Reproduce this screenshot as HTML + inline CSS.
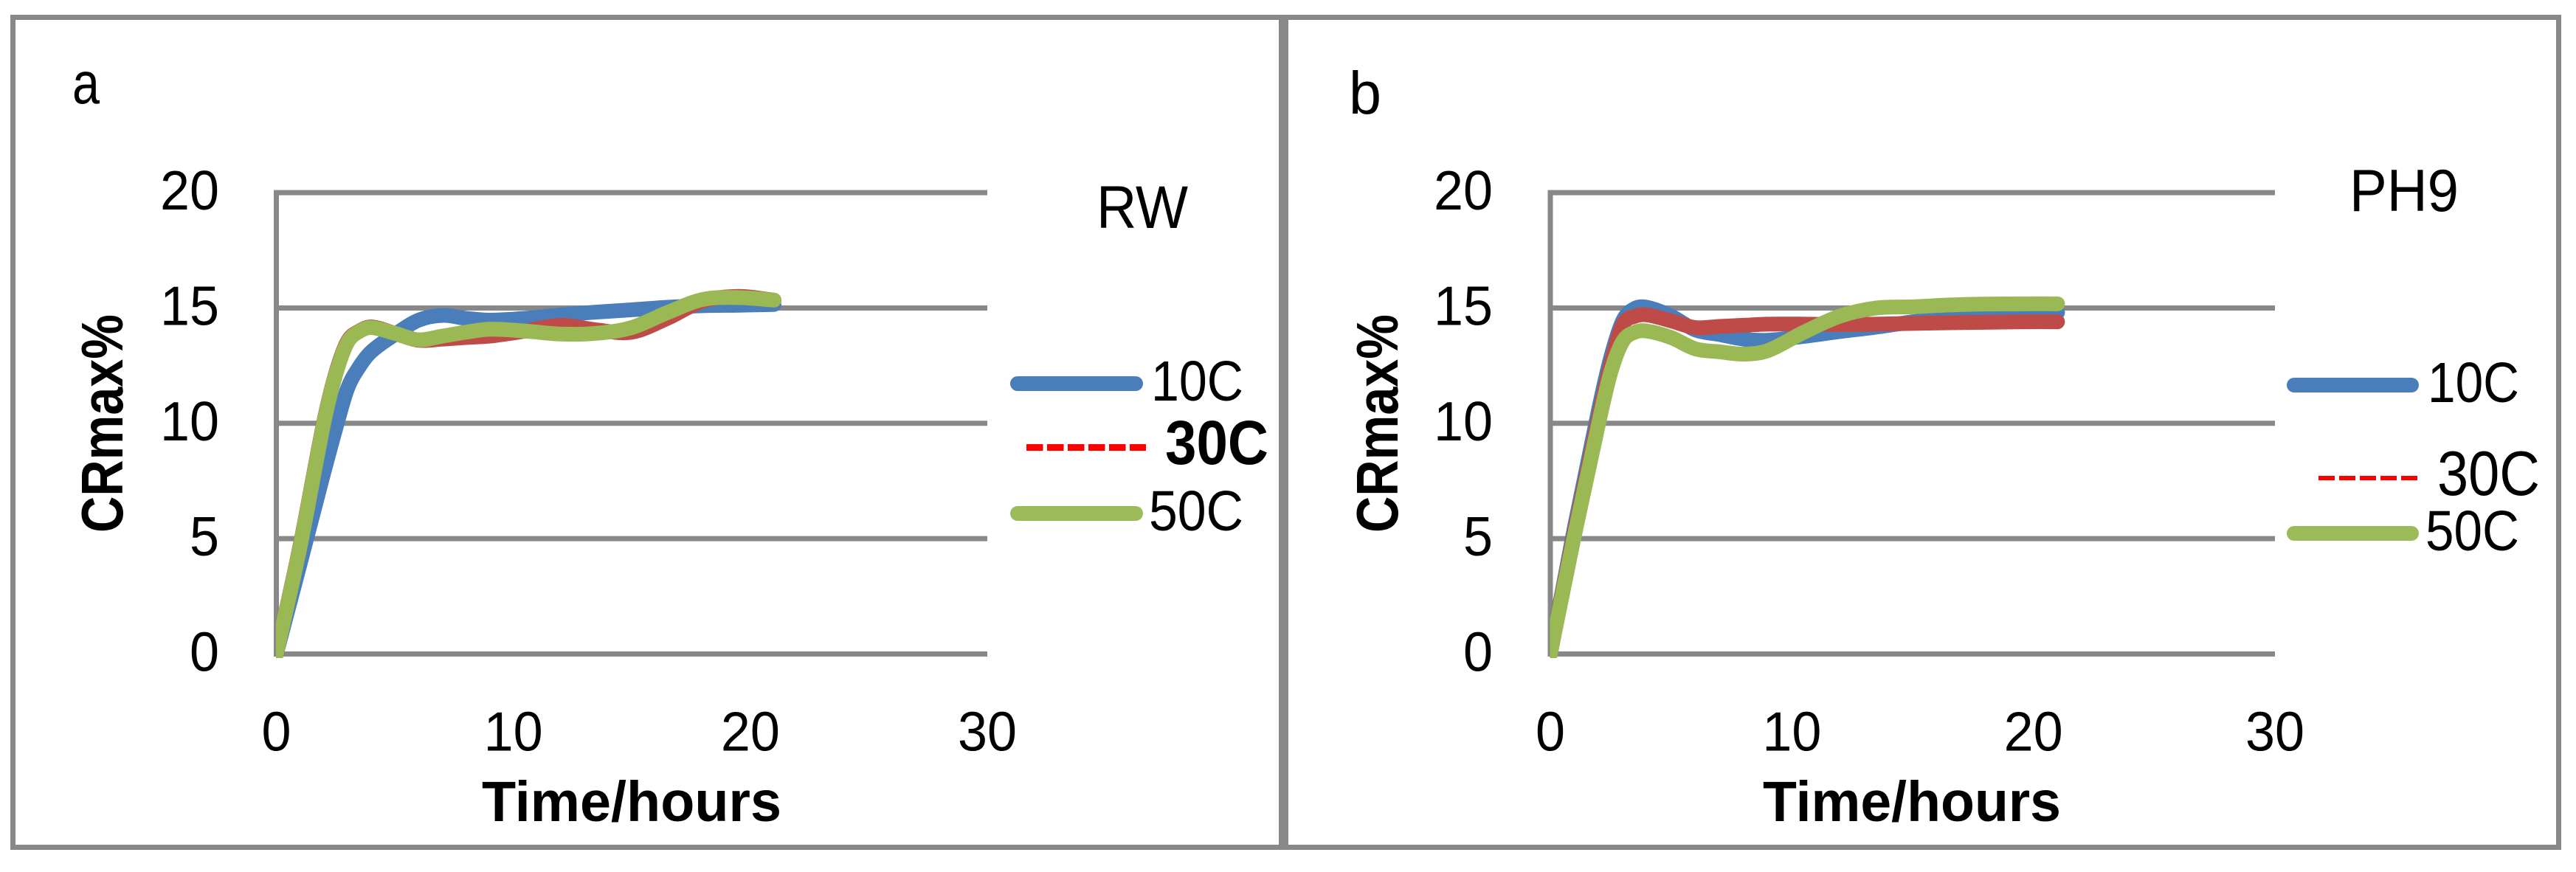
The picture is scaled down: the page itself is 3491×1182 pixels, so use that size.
<!DOCTYPE html>
<html lang="en">
<head>
<meta charset="utf-8">
<title>CRmax% versus time at three temperatures</title>
<style>
html,body{margin:0;padding:0;background:#fff;}
svg{display:block;}
text{font-family:"Liberation Sans",sans-serif;fill:#000;}
.b{font-weight:bold;}
</style>
</head>
<body>
<svg id="figure" xmlns="http://www.w3.org/2000/svg" width="3491" height="1182" viewBox="0 0 3491 1182">
  <rect x="0" y="0" width="3491" height="1182" fill="#fff"/>
  <rect x="17.5" y="23.5" width="3450" height="1125" fill="none" stroke="#888888" stroke-width="7"/>
  <rect x="1733" y="20" width="13" height="1132" fill="#888888"/>

  <g id="panel-a"></g>
  <g id="panel-b"></g>

  <text x="98" y="140" font-size="80" textLength="37" lengthAdjust="spacingAndGlyphs">a</text>
  <text x="1828" y="154" font-size="82" textLength="44" lengthAdjust="spacingAndGlyphs">b</text>
  <text x="1486" y="309" font-size="82" textLength="124" lengthAdjust="spacingAndGlyphs">RW</text>
  <text x="3184" y="286" font-size="81" textLength="148" lengthAdjust="spacingAndGlyphs">PH9</text>

  <text class="b" x="653" y="1113" font-size="77" textLength="406" lengthAdjust="spacingAndGlyphs">Time/hours</text>
  <text class="b" x="2389" y="1113" font-size="77" textLength="404" lengthAdjust="spacingAndGlyphs">Time/hours</text>
  <text class="b" transform="translate(166 722) rotate(-90)" x="0" y="0" font-size="80" textLength="296" lengthAdjust="spacingAndGlyphs">CRmax%</text>
  <text class="b" transform="translate(1894 722) rotate(-90)" x="0" y="0" font-size="80" textLength="296" lengthAdjust="spacingAndGlyphs">CRmax%</text>

  <g>
    <line x1="1379" y1="520" x2="1539" y2="520" stroke="#4a7ebb" stroke-width="20" stroke-linecap="round"/>
    <text x="1560" y="543" font-size="77" textLength="125" lengthAdjust="spacingAndGlyphs">10C</text>
    <line x1="1391" y1="606.5" x2="1553" y2="606.5" stroke="#ff0000" stroke-width="9" stroke-dasharray="22.5 5.5"/>
    <text class="b" x="1579" y="629" font-size="84" textLength="140" lengthAdjust="spacingAndGlyphs">30C</text>
    <line x1="1379" y1="696" x2="1539" y2="696" stroke="#9bbb59" stroke-width="20" stroke-linecap="round"/>
    <text x="1557" y="719" font-size="77" textLength="128" lengthAdjust="spacingAndGlyphs">50C</text>
  </g>
  <g>
    <line x1="3109" y1="522" x2="3268" y2="522" stroke="#4a7ebb" stroke-width="20" stroke-linecap="round"/>
    <text x="3290" y="545" font-size="77" textLength="124" lengthAdjust="spacingAndGlyphs">10C</text>
    <line x1="3142" y1="648" x2="3276" y2="648" stroke="#ff0000" stroke-width="6" stroke-dasharray="22 6"/>
    <text x="3303" y="671" font-size="85" textLength="139" lengthAdjust="spacingAndGlyphs">30C</text>
    <line x1="3109" y1="723" x2="3268" y2="723" stroke="#9bbb59" stroke-width="20" stroke-linecap="round"/>
    <text x="3287" y="746" font-size="77" textLength="127" lengthAdjust="spacingAndGlyphs">50C</text>
  </g>
</svg>
<script>
var xTickValues = [0, 10, 20, 30];
var yTickValues = [0, 5, 10, 15, 20];
var timeHours = [0, 1, 2, 2.5, 3, 3.5, 4, 5, 6, 7, 8, 9, 10.5, 12, 13.5, 15, 16.5, 18, 19.5, 21];

var rw10C = [0, 3.9, 7.85, 9.75, 11.5, 12.45, 13.1, 13.85, 14.47, 14.68, 14.55, 14.47, 14.55, 14.7, 14.82, 14.92, 15.03, 15.1, 15.12, 15.15];
var rw30C = [0, 4.7, 10.05, 12.15, 13.55, 14.0, 14.18, 13.9, 13.6, 13.65, 13.72, 13.78, 14.0, 14.25, 14.05, 13.95, 14.55, 15.3, 15.5, 15.34];
var rw50C = [0, 4.65, 10, 12.1, 13.5, 13.98, 14.15, 13.9, 13.62, 13.78, 13.95, 14.08, 14.0, 13.87, 13.9, 14.15, 14.8, 15.37, 15.45, 15.34];

var ph10C = [0, 5.5, 10.6, 12.85, 14.45, 14.98, 15.03, 14.65, 14.05, 13.85, 13.65, 13.6, 13.77, 13.98, 14.17, 14.4, 14.6, 14.72, 14.78, 14.8];
var ph30C = [0, 5.3, 10.25, 12.55, 14.27, 14.64, 14.7, 14.44, 14.15, 14.2, 14.25, 14.3, 14.3, 14.28, 14.3, 14.33, 14.36, 14.38, 14.4, 14.4];
var ph50C = [0, 5.15, 10, 12.2, 13.55, 13.95, 14.0, 13.72, 13.23, 13.1, 13.0, 13.15, 13.95, 14.65, 15.0, 15.05, 15.13, 15.17, 15.18, 15.18];

var SVG_NS = 'http://www.w3.org/2000/svg';

function svgEl(tag, parent) {
  var el = document.createElementNS(SVG_NS, tag);
  parent.appendChild(el);
  return el;
}

function smoothPath(values, xScale, yScale) {
  var pts = values.map(function (v, i) { return [xScale(timeHours[i]), yScale(v)]; });
  var d = 'M' + pts[0][0].toFixed(2) + ' ' + pts[0][1].toFixed(2);
  for (var i = 0; i < pts.length - 1; i++) {
    var p0 = pts[Math.max(i - 1, 0)];
    var p1 = pts[i];
    var p2 = pts[i + 1];
    var p3 = pts[Math.min(i + 2, pts.length - 1)];
    var h = p2[0] - p1[0];
    var m1 = (p2[1] - p0[1]) / (p2[0] - p0[0]);
    var m2 = (p3[1] - p1[1]) / (p3[0] - p1[0]);
    var c1x = p1[0] + h / 3;
    var c1y = p1[1] + m1 * h / 3;
    var c2x = p2[0] - h / 3;
    var c2y = p2[1] - m2 * h / 3;
    d += 'C' + c1x.toFixed(2) + ' ' + c1y.toFixed(2) + ' ' + c2x.toFixed(2) + ' ' + c2y.toFixed(2) + ' ' + p2[0].toFixed(2) + ' ' + p2[1].toFixed(2);
  }
  return d;
}

function drawPanel(id, prefix, x0, x30, yLabelRight, blue, red, green) {
  var g = document.getElementById(id);
  var xScale = function (t) { return x0 + t * (x30 - x0) / 30; };
  var yScale = function (v) { return 886.5 - v * 31.27; };

  yTickValues.forEach(function (v) {
    var line = svgEl('line', g);
    
    
    line.setAttribute('x1', x0);
    line.setAttribute('x2', xScale(30));
    line.setAttribute('y1', yScale(v));
    line.setAttribute('y2', yScale(v));
    line.setAttribute('stroke', '#888888');
    line.setAttribute('stroke-width', '7');

    var label = svgEl('text', g);
    
    
    label.setAttribute('x', yLabelRight);
    label.setAttribute('y', yScale(v) + 23);
    label.setAttribute('text-anchor', 'end');
    label.setAttribute('font-size', '75');
    label.setAttribute('textLength', String(v).length * 40);
    label.setAttribute('lengthAdjust', 'spacingAndGlyphs');
    label.textContent = v;
  });

  var axis = svgEl('line', g);
  
  
  axis.setAttribute('x1', x0);
  axis.setAttribute('x2', x0);
  axis.setAttribute('y1', yScale(20) - 3.5);
  axis.setAttribute('y2', yScale(0) + 3.5);
  axis.setAttribute('stroke', '#888888');
  axis.setAttribute('stroke-width', '7');

  xTickValues.forEach(function (t) {
    var label = svgEl('text', g);
    
    
    label.setAttribute('x', xScale(t));
    label.setAttribute('y', 1017.5);
    label.setAttribute('text-anchor', 'middle');
    label.setAttribute('font-size', '75');
    label.setAttribute('textLength', String(t).length * 40);
    label.setAttribute('lengthAdjust', 'spacingAndGlyphs');
    label.textContent = t;
  });

  var clip = svgEl('clipPath', g);
  clip.setAttribute('id', prefix + '-clip');
  var clipRect = svgEl('rect', clip);
  clipRect.setAttribute('x', x0 - 0.5);
  clipRect.setAttribute('y', 0);
  clipRect.setAttribute('width', xScale(30) - x0 + 10);
  clipRect.setAttribute('height', yScale(0) + 5.5);

  var blueLine = svgEl('path', g);
  
  
  blueLine.setAttribute('d', smoothPath(blue, xScale, yScale));
  blueLine.setAttribute('fill', 'none');
  blueLine.setAttribute('stroke', '#4a7ebb');
  blueLine.setAttribute('stroke-width', '20');
  blueLine.setAttribute('stroke-linecap', 'round');
  blueLine.setAttribute('stroke-linejoin', 'round');
  blueLine.setAttribute('clip-path', 'url(#' + prefix + '-clip)');

  var redLine = svgEl('path', g);
  
  
  redLine.setAttribute('d', smoothPath(red, xScale, yScale));
  redLine.setAttribute('fill', 'none');
  redLine.setAttribute('stroke', '#be4b48');
  redLine.setAttribute('stroke-width', '20');
  redLine.setAttribute('stroke-linecap', 'round');
  redLine.setAttribute('stroke-linejoin', 'round');
  redLine.setAttribute('clip-path', 'url(#' + prefix + '-clip)');

  var greenLine = svgEl('path', g);
  
  
  greenLine.setAttribute('d', smoothPath(green, xScale, yScale));
  greenLine.setAttribute('fill', 'none');
  greenLine.setAttribute('stroke', '#9ab955');
  greenLine.setAttribute('stroke-width', '20');
  greenLine.setAttribute('stroke-linecap', 'round');
  greenLine.setAttribute('stroke-linejoin', 'round');
  greenLine.setAttribute('clip-path', 'url(#' + prefix + '-clip)');
}

drawPanel('panel-a', 'panel-a', 374.5, 1338, 297, rw10C, rw30C, rw50C);
drawPanel('panel-b', 'panel-b', 2101, 3083, 2023, ph10C, ph30C, ph50C);
</script>
</body>
</html>
